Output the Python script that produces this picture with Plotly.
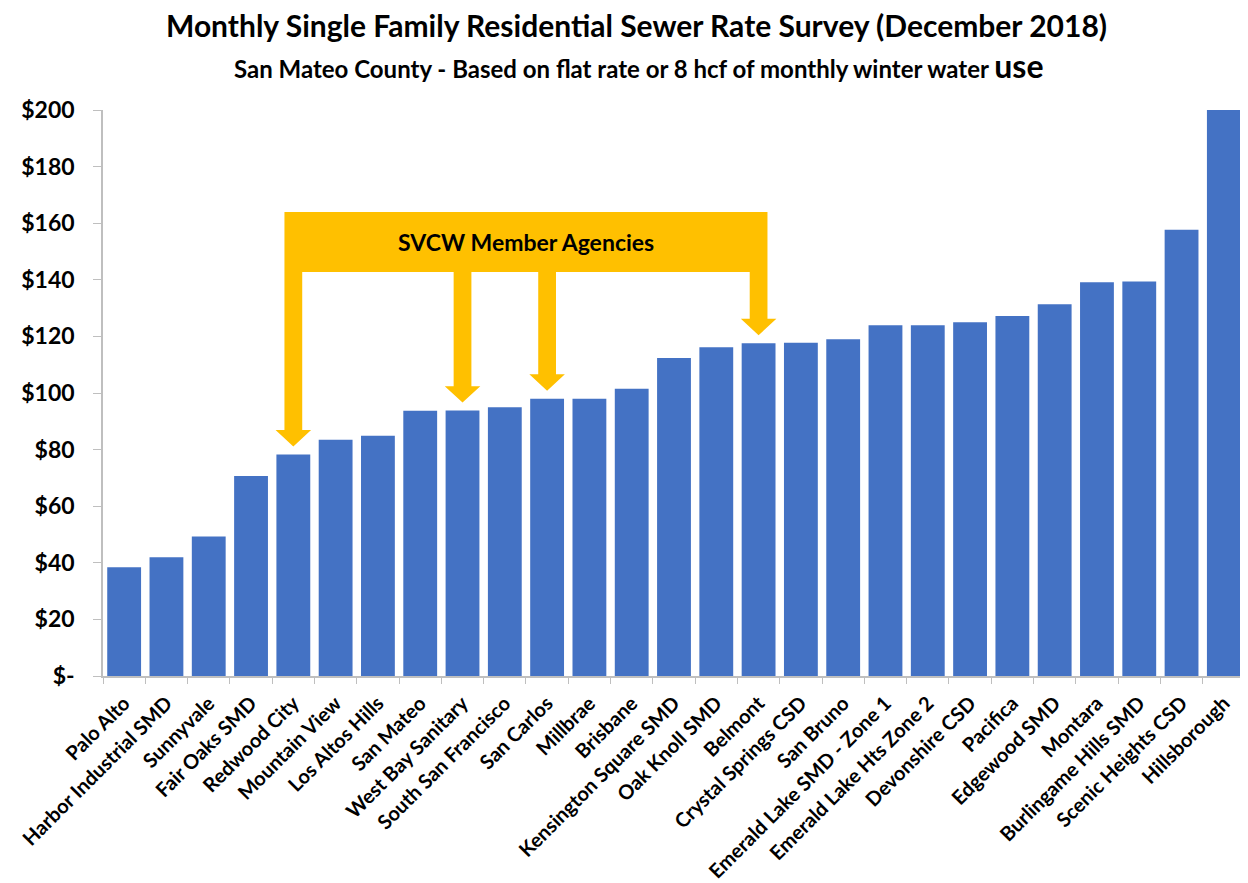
import plotly.graph_objects as go

AGENCIES = [
    "Palo Alto", "Harbor Industrial SMD", "Sunnyvale", "Fair Oaks SMD", "Redwood City",
    "Mountain View", "Los Altos Hills", "San Mateo", "West Bay Sanitary", "South San Francisco",
    "San Carlos", "Millbrae", "Brisbane", "Kensington Square SMD", "Oak Knoll SMD", "Belmont",
    "Crystal Springs CSD", "San Bruno", "Emerald Lake SMD - Zone 1", "Emerald Lake Hts Zone 2",
    "Devonshire CSD", "Pacifica", "Edgewood SMD", "Montara", "Burlingame Hills SMD",
    "Scenic Heights CSD", "Hillsborough",
]
MONTHLY_RATE = [
    38.4, 42.0, 49.3, 70.7, 78.3,
    83.5, 84.9, 93.7, 93.8, 95.0,
    98.0, 98.0, 101.5, 112.4, 116.2, 117.6,
    117.8, 119.0, 123.9, 123.9,
    125.0, 127.2, 131.4, 139.1, 139.4,
    157.7, 200.0,
]
SVCW_MEMBERS = ["Redwood City", "West Bay Sanitary", "San Carlos", "Belmont"]
Y_TICKS = [0, 20, 40, 60, 80, 100, 120, 140, 160, 180, 200]
Y_TICK_LABELS = ["$-", "$20", "$40", "$60", "$80", "$100", "$120", "$140", "$160", "$180", "$200"]

FONT = "Lato"
GOLD = "#FFC000"
BLUE = "#4472C4"
AXIS_GREY = "#BFBFBF"

# callout geometry (data units)
BOX_BOTTOM, BOX_TOP = 142.8, 164.0
SHAFT_HALF, HEAD_HALF, HEAD_LEN, TIP_GAP = 0.21, 0.42, 5.8, 2.8


def arrow_path(x: float, bar_top: float) -> str:
    tip = bar_top + TIP_GAP
    head = tip + HEAD_LEN
    return (
        f"M {x - SHAFT_HALF},{BOX_BOTTOM} L {x + SHAFT_HALF},{BOX_BOTTOM} "
        f"L {x + SHAFT_HALF},{head} L {x + HEAD_HALF},{head} L {x},{tip} "
        f"L {x - HEAD_HALF},{head} L {x - SHAFT_HALF},{head} Z"
    )


fig = go.Figure(
    go.Bar(x=AGENCIES, y=MONTHLY_RATE, marker={"color": BLUE, "line": {"width": 0}})
)

member_idx = [AGENCIES.index(name) for name in SVCW_MEMBERS]
shapes = [
    {
        "type": "rect", "xref": "x", "yref": "y",
        "x0": member_idx[0] - SHAFT_HALF, "x1": member_idx[-1] + SHAFT_HALF,
        "y0": BOX_BOTTOM, "y1": BOX_TOP,
        "fillcolor": GOLD, "line": {"width": 0},
    }
]
for idx in member_idx:
    shapes.append({
        "type": "path", "xref": "x", "yref": "y",
        "path": arrow_path(idx, MONTHLY_RATE[idx]),
        "fillcolor": GOLD, "line": {"width": 0},
    })

fig.add_annotation(
    x=(member_idx[0] + member_idx[-1]) / 2, y=(BOX_BOTTOM + BOX_TOP) / 2,
    xref="x", yref="y", text="<b>SVCW Member Agencies</b>", showarrow=False,
    font={"family": FONT, "size": 23, "color": "black"},
)
# title and subtitle as paper annotations above the plot area
fig.add_annotation(
    x=0.467, y=1.150, xref="paper", yref="paper", yanchor="middle", showarrow=False,
    text="<b>Monthly Single Family Residential Sewer Rate Survey (December 2018)</b>",
    font={"family": FONT, "size": 30, "color": "black"},
)
fig.add_annotation(
    x=0.469, y=1.079, xref="paper", yref="paper", yanchor="middle", showarrow=False,
    text=(
        "<b>San Mateo County - Based on flat rate or 8 hcf of monthly winter water </b>"
        "<span style='font-size:32px'><b>use</b></span>"
    ),
    font={"family": FONT, "size": 24, "color": "black"},
)

fig.update_layout(
    width=1240,
    height=875,
    template="plotly_white",
    paper_bgcolor="white",
    plot_bgcolor="white",
    shapes=shapes,
    showlegend=False,
    bargap=0.2,
    margin={"l": 95, "r": 3, "t": 102, "b": 207},
    font={"family": FONT, "color": "black"},
)
fig.update_xaxes(
    showgrid=False,
    showline=True,
    linecolor=AXIS_GREY,
    linewidth=1.5,
    ticks="outside",
    tickson="boundaries",
    ticklen=6,
    tickcolor=AXIS_GREY,
    tickangle=-45,
    ticklabelstandoff=6,
    tickfont={"family": FONT, "size": 20, "color": "black", "weight": "bold"},
    automargin=False,
)
fig.update_yaxes(
    range=[0, 200],
    showgrid=False,
    showline=True,
    linecolor=AXIS_GREY,
    linewidth=1.5,
    ticks="outside",
    ticklen=8,
    tickcolor=AXIS_GREY,
    tickvals=Y_TICKS,
    ticktext=Y_TICK_LABELS,
    ticklabelstandoff=14,
    tickfont={"family": FONT, "size": 23, "color": "black", "weight": "bold"},
    zeroline=False,
    automargin=False,
)

fig.write_html("out.html")
